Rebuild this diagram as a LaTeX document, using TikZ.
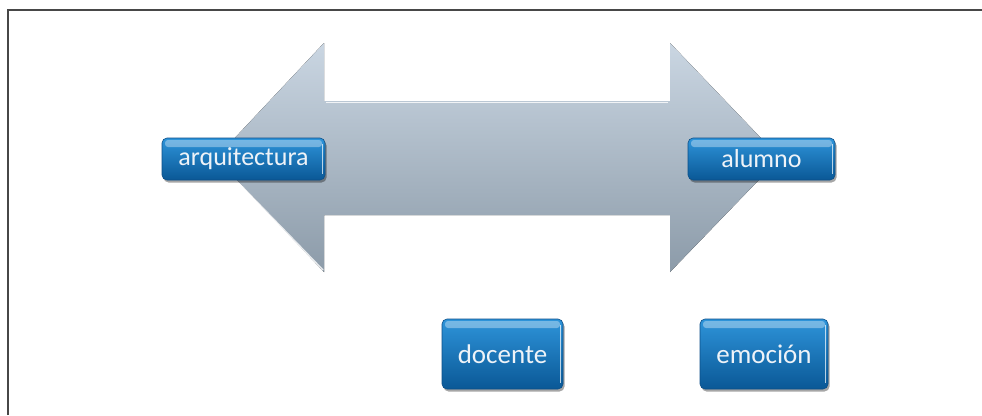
\documentclass[tikz,border=0pt]{standalone}
\usepackage{fontspec}
\setmainfont{Carlito}
\usetikzlibrary{shadows}
\definecolor{framecol}{HTML}{474747}
\definecolor{arrowtop}{HTML}{CAD6E2}
\definecolor{arrowbot}{HTML}{8C9BA9}
\definecolor{boxtop}{HTML}{2E94DA}
\definecolor{boxbot}{HTML}{0A5896}
\definecolor{boxedge}{HTML}{0C4F88}
\definecolor{boxtext}{HTML}{EEF3F8}
\tikzset{
  conceptbox/.style={rounded corners=5pt, top color=boxtop, bottom color=boxbot,
    draw=boxedge, line width=0.6pt, text=boxtext, inner sep=0pt,
    drop shadow={shadow xshift=1.5pt, shadow yshift=-2.5pt, opacity=0.35, fill=black},
    path picture={
      \fill[white, opacity=0.35, rounded corners=3pt]
        ([xshift=3pt,yshift=-2pt]path picture bounding box.north west)
        rectangle ([xshift=-3pt,yshift=-9pt]path picture bounding box.north east);
      \draw[white, opacity=0.7, line width=1.2pt]
        ([xshift=-2.5pt,yshift=-6pt]path picture bounding box.north east) --
        ([xshift=-2.5pt,yshift=6pt]path picture bounding box.south east);
    }},
  toptext/.style={font=\fontsize{26}{28}\selectfont},
  bottext/.style={font=\fontsize{27}{29}\selectfont},
  bevel/.style={white, opacity=0.8, line width=1.5pt}
}
\begin{document}
\begin{tikzpicture}[x=1pt, y=-1pt]
\useasboundingbox[fill=white] (0,0) rectangle (982,415);
% frame
\draw[framecol, line width=1.6pt] (8,415) -- (8,10) -- (982,10);
% double arrow
\fill[top color=arrowtop, bottom color=arrowbot]
  (216,158) -- (324,43) -- (324,101) -- (670,101) -- (670,43) -- (780,158)
  -- (670,272) -- (670,215) -- (324,215) -- (324,272) -- cycle;
\draw[bevel] (326,102.5) -- (668,102.5);
\draw[bevel] (226,170) -- (323,270);
\draw[white, opacity=0.5, line width=1pt] (325,46) -- (325,100);
% concept boxes
\node[conceptbox, toptext, minimum width=163pt, minimum height=42pt] (arq) at (243.5,159) {arquitectura};
\node[conceptbox, toptext, minimum width=147pt, minimum height=42pt] (alu) at (761.5,159) {alumno};
\node[conceptbox, bottext, minimum width=121pt, minimum height=70pt] (doc) at (502.5,354) {docente};
\node[conceptbox, bottext, minimum width=128pt, minimum height=70pt] (emo) at (764,354) {emoción};
\end{tikzpicture}
\end{document}
